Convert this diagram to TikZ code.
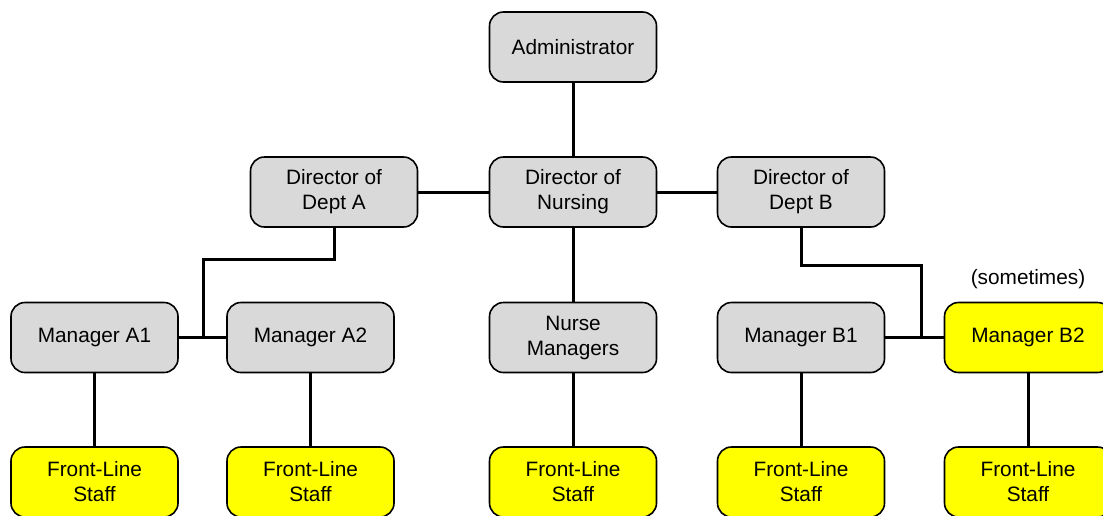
\documentclass[tikz,border=0pt]{standalone}
\usepackage{fontspec}
\setmainfont{Liberation Sans}
\begin{document}
\begin{tikzpicture}[x=1pt,y=-1pt,
  box/.style={draw=black, line width=1.6pt, rounded corners=14pt, minimum width=167pt, minimum height=70pt, inner sep=0pt, align=center, font=\fontsize{20.8}{25}\selectfont},
  grey/.style={box, fill=boxgrey},
  yell/.style={box, fill=boxyellow},
  conn/.style={line width=3pt}]
\definecolor{boxgrey}{HTML}{D9D9D9}
\definecolor{boxyellow}{HTML}{FFFF00}
\useasboundingbox (0,0) rectangle (1103,515);
\clip (0,0) rectangle (1103,515);
\coordinate (kA) at (203,259);
\coordinate (jA) at (203,337.5);
\coordinate (kB) at (921,265);
\coordinate (jB) at (921,337.5);
% nodes
\node[grey] (admin) at (573,47) {Administrator};
\node[grey] (dA) at (334,192) {Director of\\Dept A};
\node[grey] (dn) at (573,192) {Director of\\Nursing};
\node[grey] (dB) at (801,192) {Director of\\Dept B};
\node[grey] (mA1) at (94.5,337.5) {Manager A1};
\node[grey] (mA2) at (310.5,337.5) {Manager A2};
\node[grey] (nm) at (573,337.5) {Nurse\\Managers};
\node[grey] (mB1) at (801,337.5) {Manager B1};
\node[yell] (mB2) at (1028,337.5) {Manager B2};
\node[font=\fontsize{20.8}{25}\selectfont] (note) at (1028,279) {(sometimes)};
\node[yell] (fA1) at (94.5,482) {Front-Line\\Staff};
\node[yell] (fA2) at (310.5,482) {Front-Line\\Staff};
\node[yell] (fN) at (573,482) {Front-Line\\Staff};
\node[yell] (fB1) at (801,482) {Front-Line\\Staff};
\node[yell] (fB2) at (1028,482) {Front-Line\\Staff};
% connectors
\draw[conn] (admin) -- (dn);
\draw[conn] (dA) -- (dn);
\draw[conn] (dn) -- (dB);
\draw[conn] (dn) -- (nm);
\draw[conn] (dA.south) |- (kA) -- (jA);
\draw[conn] (mA1) -- (mA2);
\draw[conn] (dB.south) |- (kB) -- (jB);
\draw[conn] (mB1) -- (mB2);
\draw[conn] (mA1) -- (fA1);
\draw[conn] (mA2) -- (fA2);
\draw[conn] (nm) -- (fN);
\draw[conn] (mB1) -- (fB1);
\draw[conn] (mB2) -- (fB2);
\end{tikzpicture}
\end{document}
